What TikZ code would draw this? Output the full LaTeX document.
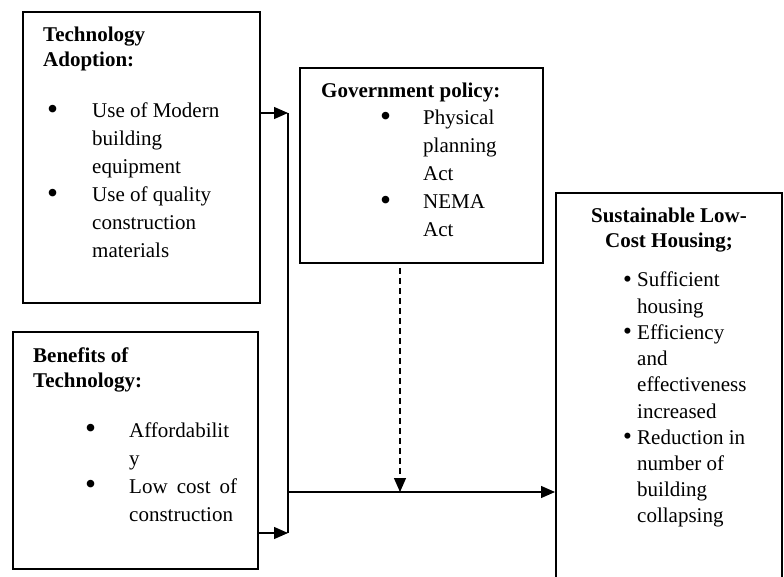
\documentclass[tikz,border=0pt]{standalone}
\usepackage{fontspec}
\setmainfont{Liberation Serif}
\usetikzlibrary{arrows.meta,positioning}

% larger list bullet
\newcommand\itemdot{\raisebox{-1.5pt}{\scalebox{1.5}{\textbullet}}}
\newcommand\smalldot{\raisebox{-0.5pt}{\scalebox{1.2}{\textbullet}}}

\tikzset{
  frame/.style={draw, line width=2pt, anchor=north west, inner sep=0pt},
  head/.style={anchor=base west, inner sep=0pt, font=\fontsize{21}{25}\selectfont\bfseries},
  items/.style={anchor=base west, inner sep=0pt, font=\fontsize{21}{28}\selectfont},
  link/.style={line width=1.3pt, -{Triangle[length=14pt,width=12pt]}},
}

\begin{document}
\begin{tikzpicture}[x=1pt,y=-1pt]
        \useasboundingbox (0,0) rectangle (784,577);
        \clip (0,0) rectangle (784,577);

        % the four boxes
        \node[frame, minimum width=237pt, minimum height=291pt] (adopt) at (22,11) {};
        \node[frame, minimum width=245pt, minimum height=237pt] (benefit) at (12,331) {};
        \node[frame, minimum width=243pt, minimum height=195pt] (gov) at (299,67) {};
        \node[frame, minimum width=226pt, minimum height=420pt] (house) at (555,192) {};

        % headings
        \node[head] (adopthead) at (43,42) {\begin{tabular}[t]{@{}l@{}}Technology\\ Adoption:\end{tabular}};
        \node[head] (benefithead) at (33,362) {\begin{tabular}[t]{@{}l@{}}Benefits of\\ Technology:\end{tabular}};
        \node[head] (govhead) at (321,98) {Government policy:};
        \node[head, anchor=base] (househead) at (669,223) {\begin{tabular}[t]{@{}c@{}}Sustainable Low-\\ Cost Housing;\end{tabular}};

        % bullet lists
        \node[items] (adoptlist) at (47,118) {\begin{tabular}[t]{@{}p{45pt}@{}l@{}}
          \itemdot & Use of Modern\\ & building\\ & equipment\\
          \itemdot & Use of quality\\ & construction\\ & materials
        \end{tabular}};
        \node[items] (benefitlist) at (85,437) {\begin{tabular}[t]{@{}p{44pt}@{}l@{}}
          \itemdot & Affordabilit\\ & y\\
          \itemdot & \makebox[108pt][s]{Low cost of}\\ & construction
        \end{tabular}};
        \node[items] (govlist) at (380,125) {\begin{tabular}[t]{@{}p{43pt}@{}l@{}}
          \itemdot & Physical\\ & planning\\ & Act\\
          \itemdot & NEMA\\ & Act
        \end{tabular}};
        \node[items, font=\fontsize{21}{26.2}\selectfont] (houselist) at (623,287) {\begin{tabular}[t]{@{}p{14pt}@{}l@{}}
          \smalldot & Sufficient\\ & housing\\
          \smalldot & Efficiency\\ & and\\ & effectiveness\\ & increased\\
          \smalldot & Reduction in\\ & number of\\ & building\\ & collapsing
        \end{tabular}};

        % connectors
        \coordinate (top) at (288,113);
        \coordinate (bot) at (288,533);
        \coordinate (mid) at (288,492);
        \coordinate (cut) at (400,492);
        \draw[link] (adopt.east |- top) -- (top);
        \draw[link] (benefit.east |- bot) -- (bot);
        \draw[line width=1.3pt] (top) -- (bot);
        \draw[link] (mid) -- (house.west |- mid);
        \draw[link, dash pattern=on 6pt off 4pt, shorten <=4pt] (gov.south -| cut) -- (cut);
\end{tikzpicture}
\end{document}
